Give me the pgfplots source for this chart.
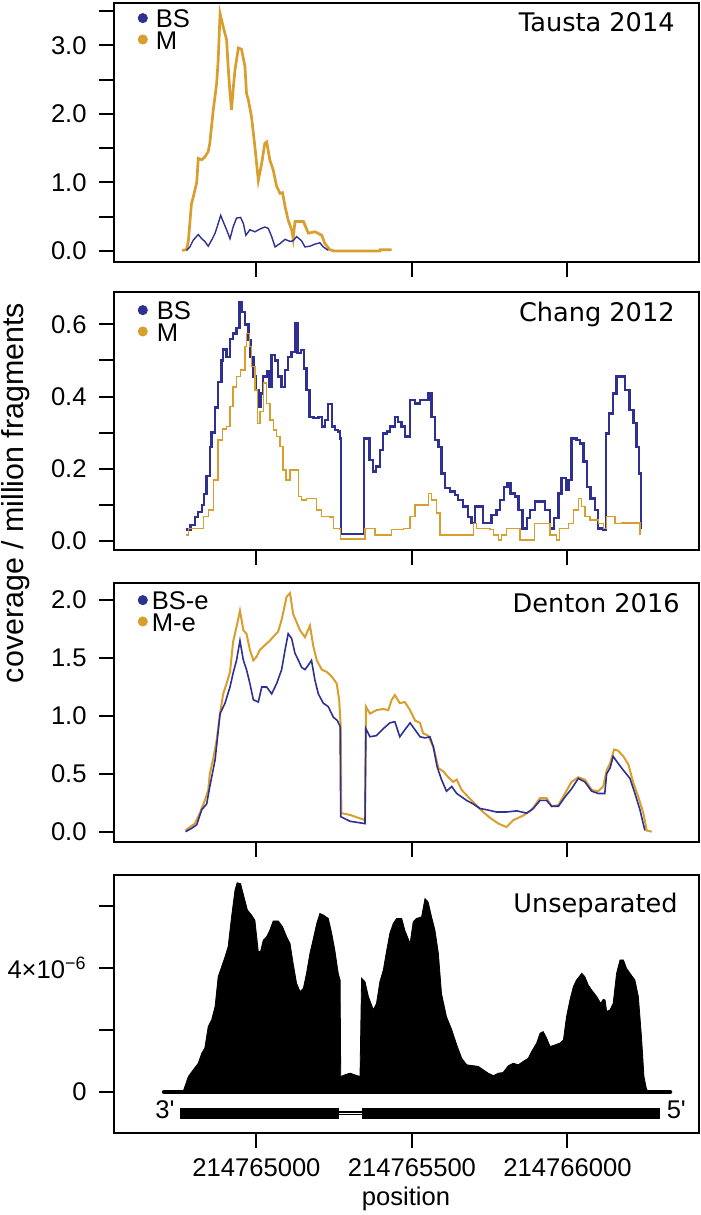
\documentclass[border=0pt]{standalone}
\usepackage{fontspec}
\setmainfont{Liberation Sans}
\newfontfamily\dejavu{DejaVu Sans}
\usepackage{pgfplots}
\pgfplotsset{compat=1.18}
\definecolor{bsblue}{HTML}{2E3192}
\definecolor{mgold}{HTML}{D89E2E}
\newcommand{\lab}{\fontsize{12.8}{14}\selectfont}

\tikzset{ptitle/.style={anchor=north east, inner sep=0pt, font=\dejavu\lab}}

\pgfplotsset{
  panel/.style={
    scale only axis, width=292.5pt,
    xmin=-458, xmax=1423,
    xtick={0,500,1000}, xticklabels={},
    tick align=outside, tick pos=left,
    major tick length=7.5pt, minor tick length=7.5pt,
    every tick/.append style={black, line width=1pt},
    axis line style={black, line width=1pt},
    tick label style={font=\lab},
    /pgf/number format/assume math mode=true,
    yticklabel style={inner sep=0pt, xshift=-6pt},
    xticklabel style={inner sep=0pt, yshift=-5pt},
    legend style={draw=none, fill=none, font=\lab, at={(rel axis cs:0,1)},
      anchor=north west, xshift=11.7pt, inner sep=0pt, row sep=1.2pt,
      nodes={inner sep=0.3pt, text depth=0pt}},
    legend cell align=left,
    legend image code/.code={\fill[#1] (0pt,0.4pt) circle (2.3pt); \path (-2.3pt,0pt) (2.3pt,0pt);},
  },
}

\begin{document}
\begin{tikzpicture}
\useasboundingbox (0,0) rectangle (350.5pt,-607.5pt);

% Tausta 2014
\begin{axis}[panel, height=129.5pt, at={(57pt,-131pt)}, anchor=south west,
  ymin=-0.16, ymax=3.615,
  ytick={0,1,2,3}, yticklabels={0.0,1.0,2.0,3.0},
  minor ytick={0.5,1.5,2.5,3.5},
  legend style={yshift=-3pt, column sep=3.7pt}]
\addlegendimage{bsblue}
\addlegendimage{mgold}
\legend{BS,M}
\addplot[mgold, line width=1.35pt, forget plot] coordinates {
(-239,0.01) (-225,0.02) (-219,0.14) (-209,0.69) (-203,0.79) (-192,1.0) (-187,1.35)
(-176,1.33) (-166,1.37) (-155,1.45) (-150,1.57) (-139,2.05) (-128,2.44) (-123,2.78)
(-117,3.46) (-107,3.27) (-96,3.08) (-91,2.69) (-85,2.30) (-80,2.06) (-75,2.35)
(-69,2.64) (-58,2.96) (-48,2.94) (-37,2.69) (-32,2.30) (-26,2.20) (-16,1.96)
(-5,1.52) (6,1.03) (17,1.28) (27,1.57) (33,1.59) (43,1.33) (54,1.18) (65,0.94)
(76,0.84) (84,0.85) (92,0.65) (102,0.45) (113,0.31) (118,0.18) (124,0.43)
(151,0.43) (167,0.26) (188,0.28) (210,0.23) (220,0.11) (236,0.02) (250,0.0)
(397,0.0) (398,0.02) (435,0.02)
};
\addplot[bsblue, line width=0.7pt, forget plot] coordinates {
(-225,0.01) (-214,0.06) (-203,0.16) (-187,0.24) (-176,0.18) (-166,0.14) (-155,0.07)
(-144,0.16) (-133,0.26) (-123,0.40) (-115,0.52) (-107,0.43) (-96,0.31) (-85,0.18)
(-75,0.35) (-64,0.48) (-51,0.49) (-42,0.40) (-34,0.23) (-21,0.31) (-5,0.28)
(11,0.32) (27,0.35) (38,0.33) (49,0.21) (60,0.06) (76,0.11) (92,0.17) (108,0.14)
(118,0.15) (129,0.21) (145,0.15) (156,0.06) (172,0.07) (188,0.10) (204,0.12)
(215,0.06) (231,0.01)
};
\node[ptitle, xshift=-12pt, yshift=-4.5pt] at (rel axis cs:1,1) {Tausta 2014};
\end{axis}

% Chang 2012
\begin{axis}[panel, height=129pt, at={(57pt,-275pt)}, anchor=south west,
  ymin=-0.025, ymax=0.6896,
  ytick={0,0.2,0.4,0.6}, yticklabels={0.0,0.2,0.4,0.6},
  minor ytick={0.1,0.3,0.5},
  legend style={yshift=-4.5pt, column sep=4.2pt}]
\addlegendimage{bsblue}
\addlegendimage{mgold}
\legend{BS,M}
\addplot[bsblue, line width=1.2pt, const plot, forget plot] coordinates {
(-228,0.032) (-212,0.044) (-198,0.067) (-187,0.08) (-176,0.10) (-169,0.13) (-160,0.18)
(-150,0.26) (-144,0.30) (-133,0.37) (-123,0.44) (-112,0.50) (-107,0.53) (-96,0.51)
(-85,0.56) (-75,0.575) (-64,0.59) (-55,0.66) (-48,0.635) (-37,0.60) (-26,0.557)
(-19,0.51) (-10,0.455) (-2,0.418) (6,0.372) (13,0.409) (22,0.455) (33,0.469)
(41,0.427) (49,0.515) (60,0.50) (70,0.455) (81,0.427) (92,0.474) (102,0.51)
(113,0.524) (124,0.603) (132,0.52) (143,0.529) (153,0.478) (161,0.418) (170,0.344)
(183,0.34) (199,0.344) (210,0.317) (220,0.335) (231,0.38) (242,0.317) (252,0.307)
(263,0.303) (269,0.284) (271,0.02)
(345,0.284) (354,0.284) (363,0.224) (374,0.192) (384,0.206) (397,0.252) (406,0.298)
(419,0.303) (429,0.317) (445,0.344) (456,0.33) (467,0.317) (477,0.289) (494,0.39)
(510,0.381) (526,0.39) (542,0.39) (553,0.409) (563,0.344) (574,0.28) (585,0.261)
(595,0.187) (606,0.146) (622,0.137) (638,0.127) (649,0.114) (665,0.095) (681,0.067)
(692,0.049) (703,0.095) (719,0.095) (729,0.049) (745,0.049) (756,0.072) (772,0.086)
(783,0.114) (796,0.15) (807,0.159) (817,0.132) (831,0.123) (842,0.086) (856,0.035)
(869,0.063) (879,0.086) (895,0.109) (912,0.109) (927,0.086) (944,0.035) (957,0.063)
(971,0.132) (981,0.174) (995,0.141) (1003,0.169) (1013,0.284) (1029,0.28) (1040,0.27)
(1051,0.22) (1062,0.15) (1074,0.118) (1088,0.086) (1099,0.035) (1115,0.032)
(1123,0.298) (1134,0.353) (1147,0.409) (1158,0.455) (1171,0.455) (1185,0.418)
(1199,0.363) (1212,0.326) (1222,0.261) (1231,0.187) (1236,0.032)
};
\addplot[mgold, line width=0.7pt, const plot, forget plot] coordinates {
(-228,0.017) (-219,0.035) (-187,0.035) (-171,0.067) (-155,0.086) (-139,0.169)
(-123,0.28) (-109,0.31) (-96,0.317) (-85,0.372) (-75,0.427) (-64,0.455) (-51,0.474)
(-37,0.538) (-32,0.575) (-23,0.538) (-16,0.483) (-5,0.418) (3,0.326) (11,0.358)
(22,0.437) (33,0.381) (43,0.335) (54,0.307) (65,0.289) (76,0.261) (86,0.197)
(95,0.169) (108,0.197) (124,0.197) (135,0.123) (145,0.114) (161,0.118) (183,0.118)
(194,0.086) (210,0.067) (236,0.066) (247,0.035) (269,0.032) (271,0.005)
(349,0.035) (381,0.017) (435,0.032) (472,0.035) (494,0.067) (510,0.10) (547,0.10)
(553,0.132) (563,0.114) (579,0.077) (590,0.017) (697,0.049) (708,0.035) (751,0.032)
(762,0.017) (778,0.003) (788,0.017) (804,0.035) (837,0.035) (847,0.003) (885,0.003)
(895,0.049) (933,0.049) (944,0.017) (965,0.003) (974,0.035) (1003,0.049) (1019,0.086)
(1035,0.118) (1046,0.095) (1056,0.067) (1072,0.058) (1088,0.058) (1099,0.049)
(1115,0.035) (1126,0.067) (1153,0.049) (1174,0.05) (1222,0.05) (1233,0.017)
};
\node[ptitle, xshift=-12pt, yshift=-5pt] at (rel axis cs:1,1) {Chang 2012};
\end{axis}

% Denton 2016
\begin{axis}[panel, height=129.5pt, at={(57pt,-421pt)}, anchor=south west,
  ymin=-0.089, ymax=2.148,
  ytick={0,0.5,1,1.5,2}, yticklabels={0.0,0.5,1.0,1.5,2.0},
  legend style={yshift=-4pt, column sep=1.7pt}]
\addlegendimage{bsblue}
\addlegendimage{mgold}
\legend{BS-e,M-e}
\addplot[mgold, line width=1pt, forget plot] coordinates {
(-228,0.01) (-214,0.04) (-198,0.07) (-182,0.16) (-166,0.27) (-155,0.36) (-150,0.50)
(-139,0.63) (-128,0.79) (-117,1.02) (-107,1.19) (-96,1.28) (-85,1.38) (-75,1.64)
(-64,1.77) (-53,1.91) (-42,1.74) (-32,1.71) (-21,1.57) (-10,1.48) (0,1.51) (11,1.57)
(27,1.61) (43,1.65) (60,1.70) (70,1.73) (81,1.83) (97,2.03) (108,2.06) (118,1.88)
(129,1.81) (140,1.74) (156,1.68) (172,1.78) (183,1.60) (194,1.48) (210,1.40)
(226,1.38) (242,1.34) (258,1.28) (266,1.14) (271,0.91) (273,0.16) (301,0.145)
(349,0.10) (352,1.08) (365,1.02) (386,1.05) (408,1.06) (424,1.05) (435,1.14)
(445,1.18) (461,1.11) (477,1.12) (494,1.05) (510,0.96) (526,0.94) (536,0.85)
(552,0.83) (569,0.73) (585,0.55) (601,0.52) (617,0.47) (633,0.43) (644,0.45)
(660,0.36) (681,0.30) (703,0.24) (729,0.17) (751,0.12) (778,0.07) (804,0.04)
(826,0.10) (858,0.14) (885,0.19) (912,0.29) (933,0.29) (949,0.22) (971,0.23)
(992,0.33) (1013,0.43) (1035,0.47) (1056,0.45) (1078,0.36) (1099,0.35) (1115,0.39)
(1126,0.53) (1137,0.59) (1150,0.71) (1163,0.70) (1180,0.65) (1196,0.58) (1212,0.42)
(1228,0.30) (1244,0.16) (1255,0.01) (1271,0.0)
};
\addplot[bsblue, line width=0.8pt, forget plot] coordinates {
(-228,0.0) (-208,0.03) (-192,0.06) (-176,0.19) (-160,0.24) (-150,0.39) (-133,0.62)
(-117,1.02) (-101,1.11) (-85,1.25) (-75,1.37) (-64,1.48) (-53,1.65) (-42,1.48)
(-32,1.40) (-21,1.28) (-10,1.14) (6,1.12) (17,1.25) (33,1.25) (49,1.19) (65,1.28)
(81,1.40) (92,1.57) (102,1.71) (113,1.67) (124,1.54) (135,1.48) (145,1.42)
(156,1.40) (167,1.44) (177,1.48) (188,1.31) (199,1.19) (215,1.11) (231,1.08)
(247,0.99) (260,0.96) (269,0.91) (271,0.13) (301,0.09)
(349,0.07) (352,0.89) (365,0.82) (386,0.83) (408,0.89) (429,0.94) (445,0.95)
(461,0.82) (477,0.88) (494,0.94) (510,0.88) (526,0.82) (542,0.81) (558,0.82)
(569,0.73) (581,0.56) (595,0.45) (611,0.35) (628,0.39) (644,0.33) (660,0.30)
(676,0.27) (697,0.24) (719,0.20) (740,0.19) (772,0.17) (804,0.17) (837,0.18)
(869,0.16) (890,0.20) (912,0.27) (933,0.27) (949,0.22) (971,0.22) (992,0.30)
(1013,0.37) (1035,0.46) (1056,0.43) (1078,0.35) (1099,0.33) (1120,0.33) (1126,0.50)
(1137,0.55) (1147,0.65) (1163,0.59) (1180,0.53) (1201,0.46) (1217,0.33) (1233,0.19)
(1249,0.01)
};
\node[ptitle, xshift=-9.5pt, yshift=-5pt] at (rel axis cs:1,1) {Denton 2016};
\end{axis}

% Unseparated (values in units of 1e-6)
\begin{axis}[panel, height=129pt, at={(57pt,-566.5pt)}, anchor=south west,
  ymin=-1.32, ymax=7.0,
  ytick={0,2,4,6}, yticklabels={0,,4×10\textsuperscript{−6},},
  xticklabels={214765000,214765500,214766000}]
\addplot[black, fill=black, line width=0.4pt] coordinates {
(-236,0) (-230,0.18) (-219,0.50) (-203,0.72) (-187,0.93) (-176,1.25) (-166,1.42)
(-155,2.11) (-144,2.33) (-133,2.76) (-123,3.72) (-112,4.04) (-101,4.36) (-91,4.69)
(-80,5.65) (-69,6.51) (-62,6.75) (-51,6.72) (-40,6.29) (-29,5.87) (-16,5.71)
(-5,5.54) (6,4.53) (13,4.53) (22,4.90) (33,5.01) (43,5.22) (54,5.52) (70,5.52)
(84,5.33) (97,5.01) (108,4.79) (118,4.15) (129,3.51) (140,3.24) (151,3.35)
(161,3.83) (172,4.47) (183,4.95) (194,5.44) (204,5.76) (215,5.71) (231,5.60)
(242,5.12) (252,4.58) (263,3.83) (269,3.61) (271,0.50) (285,0.56) (301,0.61)
(333,0.50) (338,3.67) (349,3.56) (360,3.08) (376,2.65) (386,2.86) (397,3.56)
(408,3.94) (419,4.58) (429,5.12) (440,5.44) (451,5.60) (467,5.60) (477,5.22)
(494,4.79) (504,5.49) (515,5.60) (531,5.65) (542,6.24) (552,6.13) (563,5.65)
(574,5.22) (585,4.47) (595,3.18) (611,2.43) (628,2.01) (644,1.52) (660,1.09)
(676,0.88) (697,0.85) (713,0.83) (729,0.72) (745,0.61) (762,0.53) (778,0.61)
(793,0.63) (810,0.85) (826,0.93) (842,0.88) (858,0.99) (874,1.09) (885,1.31)
(901,1.58) (912,1.90) (922,1.95) (933,1.74) (944,1.47) (960,1.52) (976,1.58)
(987,1.68) (997,2.43) (1008,2.97) (1019,3.40) (1029,3.61) (1046,3.83) (1056,3.72)
(1067,3.45) (1078,3.29) (1094,3.08) (1107,2.86) (1115,2.99) (1121,2.97) (1126,2.60)
(1137,2.65) (1147,2.86) (1158,3.83) (1169,4.26) (1180,4.26) (1190,3.99) (1201,3.83)
(1217,3.61) (1228,3.08) (1238,1.79) (1246,0.50) (1254,0.10) (1260,0)
} \closedcycle;
% baseline
\addplot[black, line width=2.2pt, line cap=round] coordinates {(-297,0) (1330,0)};
% gene model: exons and intron
\addplot[black, fill=black, draw=none] coordinates {(-246,-0.87) (265,-0.87) (265,-0.52) (-246,-0.52)} --cycle;
\addplot[black, fill=black, draw=none] coordinates {(339,-0.87) (1298,-0.87) (1298,-0.52) (339,-0.52)} --cycle;
\addplot[black, line width=2pt] coordinates {(265,-0.69) (339,-0.69)};
\addplot[white, line width=0.7pt] coordinates {(265,-0.69) (339,-0.69)};
\node[anchor=east, font=\lab, inner sep=0pt] at (axis cs:-262,-0.58) {3\textquotesingle};
\node[anchor=west, font=\lab, inner sep=0pt] at (axis cs:1318,-0.58) {5\textquotesingle};
\node[ptitle, xshift=-10.5pt, yshift=-9pt] at (rel axis cs:1,1) {Unseparated};
\end{axis}

\node[anchor=base, font=\lab, inner sep=0pt] at (203pt,-602.5pt) {position};
\node[anchor=base, rotate=90, font=\fontsize{15.2}{17}\selectfont, inner sep=0pt] at (11.8pt,-246.5pt) {coverage / million fragments};
\end{tikzpicture}
\end{document}
